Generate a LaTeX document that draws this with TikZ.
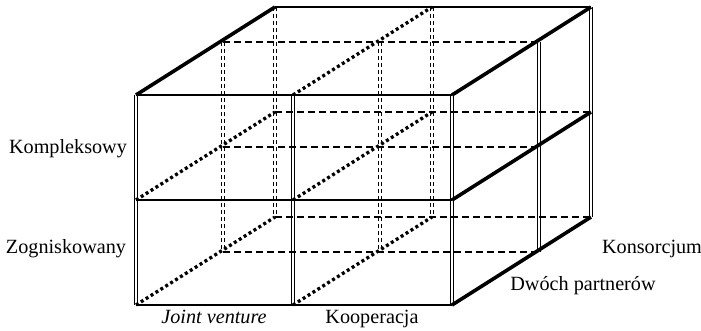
\documentclass[tikz,border=0pt]{standalone}
\usepackage{fontspec}
\setmainfont{Liberation Serif}
\usetikzlibrary{positioning}

\begin{document}
\begin{tikzpicture}[x=1bp, y=-1bp, font=\fontsize{20.2bp}{24bp}\selectfont]
    \tikzstyle{edge}=[line width=1.8bp]
    \tikzstyle{heavy}=[line width=3.6bp]
    \tikzstyle{pillar}=[line width=1.2bp, double, double distance=1.6bp]
    \tikzstyle{hidden}=[line width=1.8bp, dash pattern=on 7bp off 4bp]
    \tikzstyle{hiddenpillar}=[pillar, dash pattern=on 4bp off 3bp]
    \tikzstyle{dots}=[line width=3.3bp, dash pattern=on 3bp off 2.8bp]
    \tikzstyle{lbl}=[inner sep=0pt, anchor=base]

    \useasboundingbox (0,0) rectangle (701,330);

    % corners: front (f), middle (m) and back (b) layer
    \foreach \c/\x in {1/136, 2/293, 3/452}
      \foreach \r/\y in {1/95, 2/200, 3/305} {
        \coordinate (f\c\r) at (\x,\y);
        \coordinate (m\c\r) at (\x+87,\y-53);
        \coordinate (b\c\r) at (\x+139,\y-88);
      }

    % pillars
    \foreach \c in {1,2} {
      \draw[hiddenpillar] (m\c1) -- (m\c3);
      \draw[hiddenpillar] (b\c1) -- (b\c3);
    }
    \draw[pillar] (m31) -- (m33);
    \draw[pillar] (b31) -- (b33);
    \foreach \c in {1,2,3} \draw[pillar] (f\c1) -- (f\c3);

    % hidden floors
    \draw[hidden] (m11) -- (m31);
    \foreach \r in {2,3} {
      \draw[hidden] (m1\r) -- (m3\r);
      \draw[hidden] (b1\r) -- (b3\r);
    }
    \draw[edge] (b11) -- (b31);

    % depth lines
    \foreach \c/\r in {1/2, 1/3, 2/1, 2/2, 2/3}
      \draw[dots] (f\c\r) -- (b\c\r);
    \foreach \r in {1,2,3} \draw[edge] (f1\r) -- (f3\r);
    \draw[heavy] (f11) -- (b11);
    \foreach \r in {1,2,3} \draw[heavy] (f3\r) -- (b3\r);

    % labels
    \node[lbl] (kompl) at (68,153) {Kompleksowy};
    \node[lbl] (zogn) at (66,253) {Zogniskowany};
    \node[lbl] (joint) at (214,323) {\itshape Joint venture};
    \node[lbl] (koop) at (372,323) {Kooperacja};
    \node[lbl] (dwoch) at (583,290) {Dwóch partnerów};
    \node[lbl] (kons) at (652,253) {Konsorcjum};
\end{tikzpicture}
\end{document}
